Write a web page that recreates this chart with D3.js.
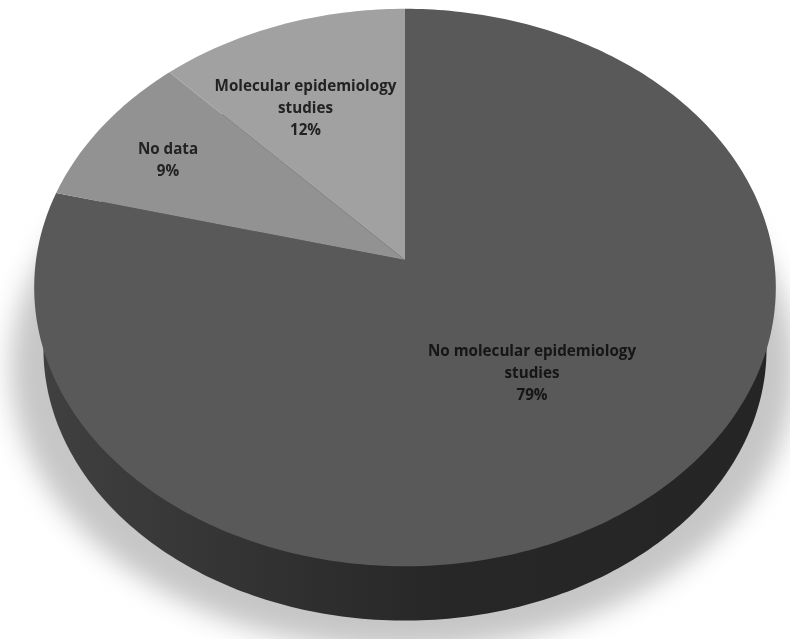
<!DOCTYPE html>
<html>
<head>
<meta charset="utf-8">
<script src="https://cdn.jsdelivr.net/npm/d3@7"></script>
<style>
body { margin: 0; background: #fff; }
svg { display: block; }
text { font-family: "Open Sans", sans-serif; font-weight: 700; font-size: 15.2px; text-anchor: middle; }
</style>
</head>
<body>
<div id="container"></div>
<script>
// Values
var categories = ["No molecular epidemiology studies", "No data", "Molecular epidemiology studies"];
var shares = [79, 9, 12];
var labelLines = [
    ["No molecular epidemiology", "studies", "79%"],
    ["No data", "9%"],
    ["Molecular epidemiology", "studies", "12%"]
];
var sliceColors = ["#595959", "#929292", "#a1a1a1"];

var width = 790, height = 639;

// Pie is a flat disc seen in perspective, apex is where the slices meet
var apex = {x: 405, y: 260},
    radiusX = 369,
    radiusY = 276,
    tilt = 0.0988,
    depth = 62;

var svg = d3.select("div#container")
    .append("svg")
    .attr("width", width)
    .attr("height", height);

var defs = svg.append("defs");

defs.append("filter")
    .attr("id", "shadowBlur")
    .attr("x", "-10%").attr("y", "-10%")
    .attr("width", "120%").attr("height", "120%")
    .append("feGaussianBlur")
    .attr("stdDeviation", 13);

defs.append("filter")
    .attr("id", "soften")
    .append("feGaussianBlur")
    .attr("stdDeviation", 0.35);

var sideGradient = defs.append("linearGradient")
    .attr("id", "sideGradient");
sideGradient.append("stop").attr("offset", "0%").attr("stop-color", "#404040");
sideGradient.append("stop").attr("offset", "30%").attr("stop-color", "#323232");
sideGradient.append("stop").attr("offset", "55%").attr("stop-color", "#272727");
sideGradient.append("stop").attr("offset", "100%").attr("stop-color", "#252525");

// angle is clockwise from 12 o'clock, r is 0..1 of the disc radius
function project(angle, r, scale, drop) {
    var u = Math.sin(angle) * r,
        v = Math.cos(angle) * r,
        w = 1 + tilt * v;
    return [
        apex.x + scale * radiusX * u / w,
        apex.y + drop - scale * radiusY * v / w
    ];
}

var line = d3.line();

function rimPoints(a0, a1, scale, drop) {
    var n = Math.max(2, Math.ceil((a1 - a0) * 60));
    return d3.range(n + 1).map(function(i) {
        return project(a0 + (a1 - a0) * i / n, 1, scale, drop);
    });
}

// Soft shadow under the pie
svg.append("ellipse")
    .attr("cx", 403)
    .attr("cy", 368)
    .attr("rx", 392)
    .attr("ry", 282)
    .attr("fill", "#c6c6c6")
    .attr("filter", "url(#shadowBlur)");

// Side wall: a slightly smaller copy of the disc, dropped below it
svg.append("path")
    .attr("d", line(rimPoints(0, Math.PI * 2, 0.975, depth)) + "Z")
    .attr("fill", "url(#sideGradient)");

var pie = d3.pie().sort(null).value(function(d) { return d; });
var arcs = pie(shares);

svg.selectAll("path.slice")
    .data(arcs)
    .enter()
    .append("path")
    .attr("class", "slice")
    .attr("d", function(d) {
        var pts = rimPoints(d.startAngle, d.endAngle, 1, 0);
        pts.push([apex.x, apex.y]);
        return line(pts) + "Z";
    })
    .attr("fill", function(d, i) { return sliceColors[i]; });

// Label anchors, placed by hand as in the original chart
var labelAt = [[532, 356], [168, 154], [305.5, 91]];

var labels = svg.selectAll("text.label")
    .data(labelLines)
    .enter()
    .append("text")
    .attr("class", "label")
    .attr("fill", function(d, i) { return i == 0 ? "#141414" : "#222222"; })
    .attr("filter", "url(#soften)")
    .attr("aria-label", function(d, i) { return categories[i]; });

labels.selectAll("tspan")
    .data(function(d, i) {
        return d.map(function(t, j) {
            return {text: t, x: labelAt[i][0], y: labelAt[i][1] + j * 22};
        });
    })
    .enter()
    .append("tspan")
    .attr("x", function(d) { return d.x; })
    .attr("y", function(d) { return d.y; })
    .text(function(d) { return d.text; });
</script>
</body>
</html>
